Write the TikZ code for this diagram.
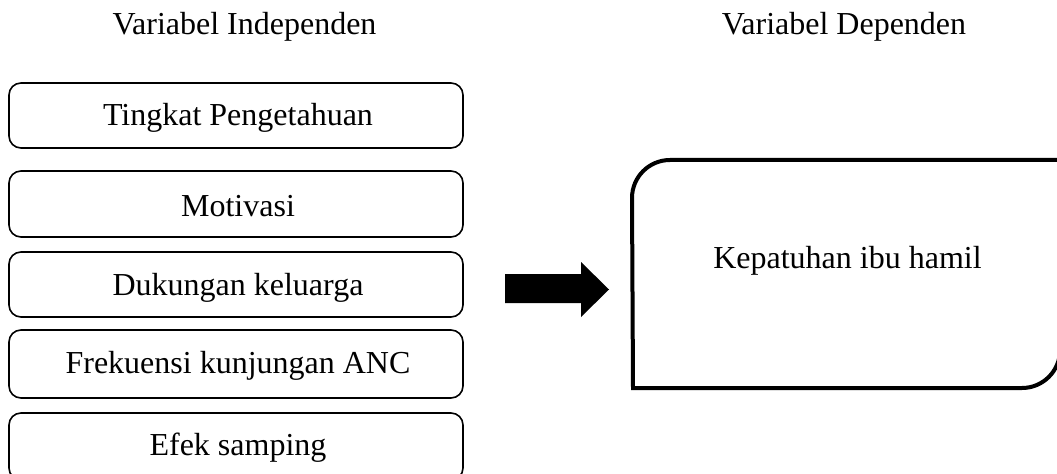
\documentclass[tikz,border=0pt]{standalone}
\usepackage{fontspec}
\setmainfont{Liberation Serif}
\begin{document}
\begin{tikzpicture}[x=0.75pt,y=-0.75pt,
  varbox/.style={draw=black, line width=1.2pt, rounded corners=9pt},
  lbl/.style={font=\fontsize{24}{28}\selectfont, inner sep=0pt, anchor=base},
  bigbox/.style={draw=black, line width=3pt}]
\useasboundingbox (0,0) rectangle (1057,474);
\node[lbl] (hi) at (244.5,35) {Variabel Independen};
\node[lbl] (hd) at (844,35) {Variabel Dependen};
\foreach \n/\t/\b/\y/\s in {a/83/148/126/Tingkat Pengetahuan, b/171/237/217/Motivasi, c/252/317/296/Dukungan keluarga, d/330/398/373/Frekuensi kunjungan ANC, e/413/480/455/Efek samping}{
  \draw[varbox] (9,\t) rectangle (463,\b);
  \node[lbl] (\n) at (238,\y) {\s};
}
\draw[bigbox] (1060,160) -- (670,160) arc[start angle=90,end angle=180,radius=28.5pt] -- (633,388) -- (1022,388) arc[start angle=270,end angle=360,radius=28.5pt] -- (1060,160);
\node[lbl] (k) at (847.5,268) {Kepatuhan ibu hamil};
\fill[black] (505,274) -- (581,274) -- (581,262) -- (609,289.5) -- (581,317) -- (581,303) -- (505,303) -- cycle;
\end{tikzpicture}
\end{document}
